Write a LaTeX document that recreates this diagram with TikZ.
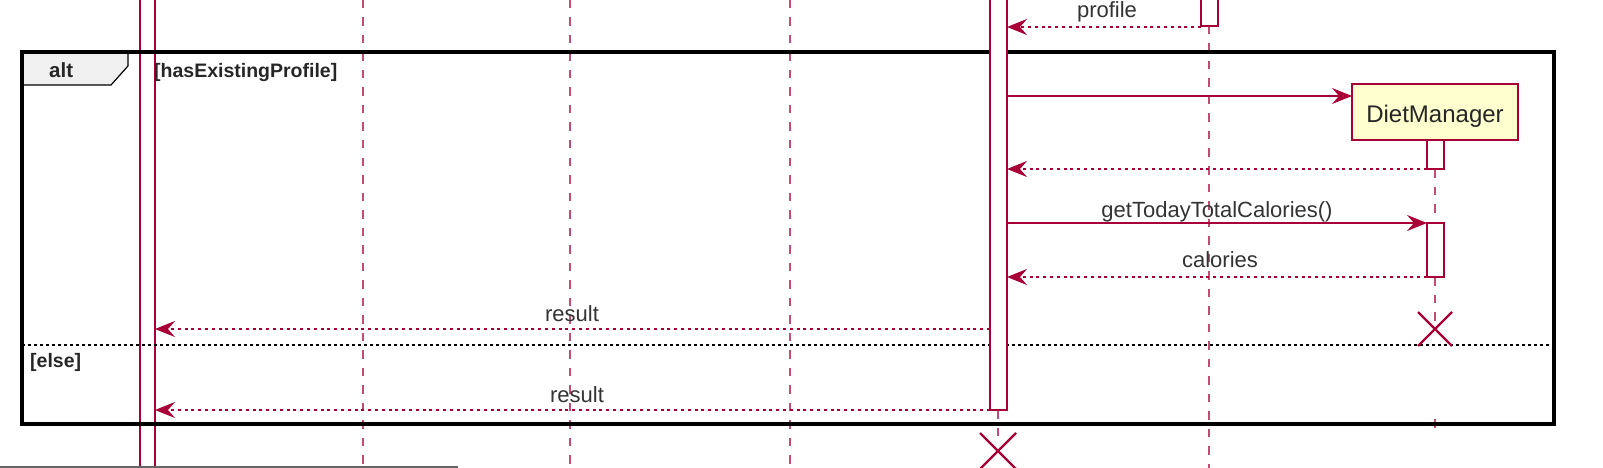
\documentclass[tikz,border=0pt]{standalone}
\usepackage{fontspec}
\setmainfont{Liberation Sans}
\usetikzlibrary{arrows.meta}
\definecolor{pu}{HTML}{A80036}
\definecolor{pubox}{HTML}{FEFECE}
\begin{document}
\begin{tikzpicture}[x=1pt,y=-1pt,
  lifeline/.style={pu!70, line width=1.7pt, dash pattern=on 8.5pt off 9pt},
  solidlife/.style={pu, line width=1.3pt},
  actbar/.style={draw=pu, line width=1.3pt, fill=white},
  msg/.style={pu, line width=1.4pt, -{Stealth[length=20pt,width=16pt,inset=7pt]}},
  ret/.style={msg, dash pattern=on 3pt off 3.8pt},
  lbl/.style={font=\fontsize{22}{22}\selectfont, text=black!80, anchor=base, inner sep=0pt},
  guard/.style={font=\bfseries\fontsize{19.5}{19.5}\selectfont, text=black!85, anchor=base west, inner sep=0pt},
  frameline/.style={black, line width=3.2pt},
  sepline/.style={black, line width=1.3pt, dash pattern=on 3pt off 3pt},
  kill/.style={pu, line width=2.4pt},
  part/.style={draw=pu, fill=pubox, line width=1.5pt, minimum width=166pt, minimum height=56pt,
    inner sep=0pt, text height=22pt, text depth=0pt, font=\fontsize{24}{24}\selectfont, text=black!85}
]
\useasboundingbox (0,0) rectangle (1603,468);

% lifelines
\draw[solidlife] (140,-5) -- (140,473);
\draw[solidlife] (155,-5) -- (155,473);
\draw[lifeline] (363,0) -- (363,470);
\draw[lifeline] (570,0) -- (570,470);
\draw[lifeline] (790,0) -- (790,470);
\draw[lifeline] (998,410) -- (998,440);
\draw[lifeline] (1209,26) -- (1209,470);
\draw[lifeline] (1435,169) -- (1435,223);
\draw[lifeline] (1435,277) -- (1435,330);
\draw[lifeline] (1435,419) -- (1435,428);

% combined fragment
\draw[fill=gray!12, line width=1.2pt] (22,52) -- (128,52) -- (128,66) -- (111,85) -- (22,85) -- cycle;
\draw[frameline] (22,52) rectangle (1554,424);
\draw[sepline] (22,345) -- (1554,345);
\node[guard, font=\bfseries\fontsize{20.5}{20.5}\selectfont] (alt) at (49,78) {alt};
\node[guard] (cond) at (154,78) {[hasExistingProfile]};
\node[guard] (else) at (30,367) {[else]};

% activation bars
\draw[actbar] (990,-5) rectangle (1007,410);
\draw[actbar] (1201,-5) rectangle (1218,26);
\draw[actbar] (1427,140) rectangle (1444,169);
\draw[actbar] (1427,223) rectangle (1444,277);

% participant
\node[part] (dm) at (1435,112) {DietManager};

% message end points
\coordinate (ctrlA) at (1007,27);   \coordinate (profA) at (1201,27);
\coordinate (ctrlB) at (1007,96);   \coordinate (dmB) at (1352,96);
\coordinate (ctrlC) at (1007,169);  \coordinate (dmC) at (1427,169);
\coordinate (ctrlD) at (1007,223);  \coordinate (dmD) at (1427,223);
\coordinate (ctrlE) at (1007,277);  \coordinate (dmE) at (1427,277);
\coordinate (ctrlF) at (990,329);   \coordinate (uiF) at (155,329);
\coordinate (ctrlG) at (990,410);   \coordinate (uiG) at (155,410);

\draw[ret] (profA) -- (ctrlA);
\draw[msg] (ctrlB) -- (dmB);
\draw[ret] (dmC) -- (ctrlC);
\draw[msg] (ctrlD) -- (dmD);
\draw[ret] (dmE) -- (ctrlE);
\draw[ret] (ctrlF) -- (uiF);
\draw[ret] (ctrlG) -- (uiG);

% labels
\node[lbl] (lprofile) at (1107,18) {profile};
\node[lbl] (lget) at (1217,217) {getTodayTotalCalories()};
\node[lbl] (lcal) at (1220,267) {calories};
\node[lbl] (lres1) at (572,321) {result};
\node[lbl] (lres2) at (577,402) {result};

% destruction marks
\draw[kill] (1418,312) -- (1452,346) (1418,346) -- (1452,312);
\draw[kill] (980,433) -- (1016,469) (980,469) -- (1016,433);

% partial line at bottom edge
\draw[black!60, line width=2pt] (0,467) -- (458,467);
\end{tikzpicture}
\end{document}
